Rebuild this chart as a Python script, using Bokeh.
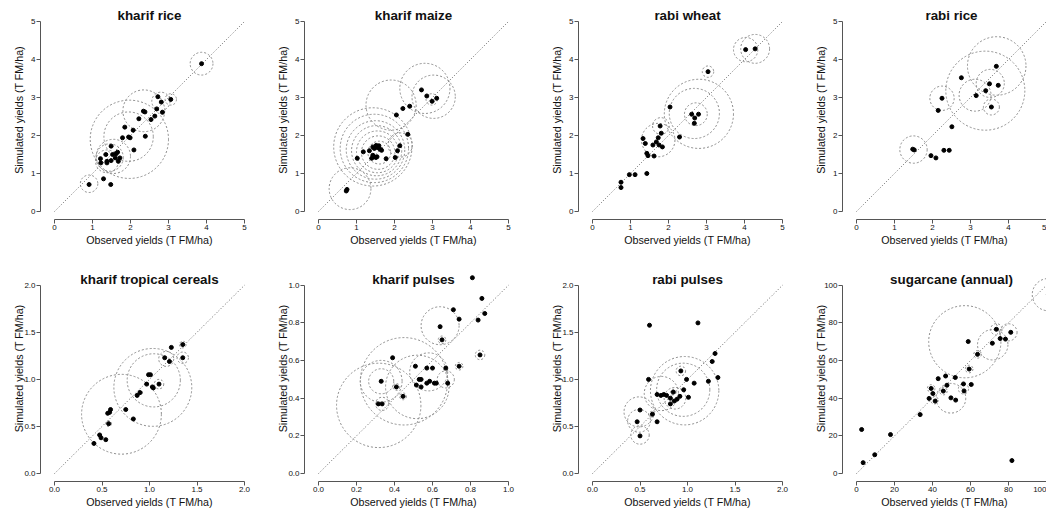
from bokeh.plotting import figure
from bokeh.models import Range1d, FixedTicker, Label, ColumnDataSource
from bokeh.layouts import column, row
from bokeh.embed import file_html
from bokeh.resources import INLINE

# ---------------- data ----------------
titles = ["kharif rice", "kharif maize", "rabi wheat", "rabi rice",
          "kharif tropical cereals", "kharif pulses", "rabi pulses", "sugarcane (annual)"]
x_label = "Observed yields (T FM/ha)"
y_label = "Simulated yields (T FM/ha)"

ticks_5 = [0, 1, 2, 3, 4, 5]
tick_labels_5 = ["0", "1", "2", "3", "4", "5"]
ticks_2 = [0.0, 0.5, 1.0, 1.5, 2.0]
tick_labels_2 = ["0.0", "0.5", "1.0", "1.5", "2.0"]
ticks_1 = [0.0, 0.2, 0.4, 0.6, 0.8, 1.0]
tick_labels_1 = ["0.0", "0.2", "0.4", "0.6", "0.8", "1.0"]
ticks_100 = [0, 20, 40, 60, 80, 100]
tick_labels_100 = ["0", "20", "40", "60", "80", "100"]

# kharif rice
kr_obs = [3.87, 3.06, 2.72, 2.81, 2.84, 2.69, 2.64, 2.54, 2.34, 2.38, 2.22, 2.39, 2.07, 1.85, 1.95, 1.99,
          1.79, 2.09, 1.49, 1.66, 1.35, 1.53, 1.62, 1.72, 1.60, 1.68, 1.49, 1.38, 1.21, 1.22, 1.38, 1.29, 1.48, 0.91]
kr_sim = [3.89, 2.95, 3.02, 2.88, 2.61, 2.70, 2.51, 2.42, 2.64, 2.62, 2.44, 1.98, 2.14, 2.22, 1.96, 1.94,
          1.94, 1.62, 1.72, 1.56, 1.50, 1.50, 1.52, 1.41, 1.41, 1.32, 1.34, 1.28, 1.39, 1.28, 1.32, 0.86, 0.71, 0.71]
kr_cx = [3.87, 3.06, 2.80, 2.35, 1.95, 1.97, 1.55, 1.45, 1.38, 0.91]
kr_cy = [3.89, 2.95, 2.90, 2.65, 1.97, 1.90, 1.45, 1.42, 1.32, 0.73]
kr_cr = [0.30, 0.15, 0.24, 0.55, 0.65, 1.03, 0.45, 0.36, 0.30, 0.23]

# kharif maize
km_obs = [0.73, 0.75, 1.02, 1.18, 1.34, 1.43, 1.47, 1.52, 1.56, 1.59, 1.62, 1.66, 1.40, 1.43, 1.46,
          1.51, 1.54, 1.78, 2.02, 2.08, 2.14, 2.35, 2.05, 2.22, 2.40, 2.71, 2.85, 2.99, 3.11]
km_sim = [0.54, 0.58, 1.40, 1.57, 1.60, 1.70, 1.66, 1.74, 1.68, 1.73, 1.64, 1.61, 1.40, 1.48, 1.44,
          1.42, 1.44, 1.39, 1.42, 1.60, 1.73, 2.03, 2.54, 2.71, 2.77, 3.20, 3.04, 2.90, 2.98]
km_cx = [1.43, 1.47, 1.50, 1.53, 1.55, 1.57, 1.60, 1.91, 2.80, 3.03, 2.98, 0.83, 2.15]
km_cy = [1.70, 1.66, 1.62, 1.60, 1.57, 1.55, 1.55, 2.80, 3.24, 3.02, 2.95, 0.60, 1.75]
km_cr = [1.03, 0.90, 0.77, 0.66, 0.55, 0.44, 0.30, 0.66, 0.66, 0.57, 0.15, 0.55, 0.32]

# rabi wheat
rw_obs = [0.75, 0.75, 0.97, 1.12, 1.43, 1.33, 1.39, 1.43, 1.46, 1.62, 1.59, 1.68, 1.73,
          1.75, 1.84, 1.78, 1.81, 2.29, 2.04, 2.61, 2.79, 2.69, 2.68, 3.04, 4.03, 4.28]
rw_sim = [0.77, 0.63, 0.97, 0.97, 1.00, 1.92, 1.79, 1.53, 1.47, 1.46, 1.75, 1.83, 1.94,
          1.75, 1.70, 2.25, 2.06, 1.96, 2.75, 2.56, 2.56, 2.46, 2.32, 3.68, 4.26, 4.28]
rw_cx = [4.03, 4.28, 3.04, 2.80, 2.68, 2.72, 1.73, 1.80]
rw_cy = [4.26, 4.28, 3.68, 2.57, 2.58, 2.56, 1.88, 2.25]
rw_cr = [0.32, 0.38, 0.15, 0.91, 0.66, 0.30, 0.44, 0.22]

# rabi rice
rr_obs = [1.48, 1.52, 1.96, 2.09, 2.30, 2.44, 2.15, 2.25, 2.51, 2.76, 3.15, 3.40, 3.50, 3.55, 3.68, 3.73]
rr_sim = [1.64, 1.62, 1.47, 1.41, 1.61, 1.61, 2.66, 2.98, 2.23, 3.52, 3.05, 3.18, 3.36, 2.75, 3.82, 3.32]
rr_cx = [1.50, 2.25, 3.39, 3.69, 3.12, 3.52, 3.55]
rr_cy = [1.63, 2.98, 3.18, 3.83, 3.06, 3.37, 2.75]
rr_cr = [0.36, 0.32, 1.04, 0.77, 0.42, 0.37, 0.21]

# kharif tropical cereals
kt_obs = [0.415, 0.475, 0.49, 0.54, 0.57, 0.56, 0.58, 0.59, 0.75, 0.83, 0.87, 0.90,
          0.97, 0.99, 1.01, 1.03, 1.04, 1.10, 1.16, 1.21, 1.23, 1.35, 1.35]
kt_sim = [0.32, 0.41, 0.38, 0.36, 0.53, 0.64, 0.65, 0.68, 0.68, 0.58, 0.83, 0.86,
          0.95, 1.05, 1.05, 0.92, 0.91, 0.95, 1.23, 1.19, 1.34, 1.23, 1.37]
kt_cx = [0.705, 1.035, 1.045, 1.176, 1.35, 1.35, 1.10, 0.90, 0.57]
kt_cy = [0.63, 0.915, 0.99, 1.218, 1.23, 1.37, 0.95, 0.86, 0.53]
kt_cr = [0.42, 0.41, 0.28, 0.079, 0.06, 0.035, 0.05, 0.025, 0.03]

# kharif pulses
kp_obs = [0.81, 0.86, 0.875, 0.84, 0.71, 0.74, 0.64, 0.65, 0.85, 0.74, 0.39, 0.33, 0.315, 0.335, 0.41,
          0.445, 0.51, 0.53, 0.54, 0.515, 0.54, 0.57, 0.57, 0.585, 0.60, 0.61, 0.62, 0.67, 0.68]
kp_sim = [1.04, 0.93, 0.85, 0.815, 0.87, 0.82, 0.78, 0.71, 0.63, 0.57, 0.615, 0.49, 0.37, 0.37, 0.46,
          0.41, 0.57, 0.50, 0.50, 0.47, 0.46, 0.56, 0.48, 0.49, 0.56, 0.48, 0.48, 0.56, 0.48]
kp_cx = [0.317, 0.64, 0.45, 0.52, 0.58, 0.33, 0.33, 0.445, 0.41, 0.335, 0.67, 0.74, 0.85, 0.65]
kp_cy = [0.362, 0.785, 0.49, 0.46, 0.54, 0.49, 0.49, 0.41, 0.46, 0.37, 0.50, 0.57, 0.63, 0.71]
kp_cr = [0.222, 0.10, 0.23, 0.167, 0.10, 0.11, 0.066, 0.018, 0.018, 0.035, 0.045, 0.02, 0.025, 0.02]

# rabi pulses
rp_obs = [0.60, 1.11, 1.29, 1.26, 1.32, 1.22, 1.07, 0.99, 0.93, 0.59, 0.68, 0.72, 0.75, 0.78,
          0.82, 0.82, 0.85, 0.86, 0.89, 0.92, 0.96, 1.01, 0.50, 0.47, 0.63, 0.68, 0.50]
rp_sim = [1.575, 1.60, 1.275, 1.19, 1.02, 0.98, 0.96, 1.00, 1.09, 1.00, 0.84, 0.83, 0.84, 0.83,
          0.80, 0.74, 0.865, 0.77, 0.79, 0.82, 0.89, 0.81, 0.675, 0.55, 0.63, 0.55, 0.40]
rp_cx = [0.97, 0.955, 0.725, 0.49, 0.49, 0.50, 0.868, 0.93, 0.85, 0.62]
rp_cy = [0.88, 0.89, 0.85, 0.655, 0.56, 0.41, 0.80, 1.09, 0.865, 0.63]
rp_cr = [0.36, 0.28, 0.18, 0.158, 0.12, 0.097, 0.114, 0.05, 0.03, 0.03]

# sugarcane (annual)
sc_obs = [2.7, 3.5, 9.6, 17.9, 33.5, 38.2, 39.3, 40.2, 41.4, 43.0, 46.9, 47.6, 45.7, 49.7, 52.2,
          52.0, 56.3, 56.6, 60.4, 58.8, 59.3, 63.7, 71.5, 73.6, 75.6, 78.4, 81.2, 81.8, 101.0]
sc_sim = [23.4, 5.8, 10.0, 20.7, 31.3, 39.9, 45.2, 42.5, 38.5, 50.4, 51.8, 46.9, 43.8, 40.2, 39.0,
          51.0, 47.6, 43.9, 47.3, 70.1, 55.5, 63.3, 69.2, 76.6, 71.7, 71.4, 75.0, 6.9, 95.0]
sc_cx = [57.0, 73.6, 80.0, 71.7, 63.7, 59.3, 49.7, 56.3, 45.7, 39.3, 41.0, 101.0]
sc_cy = [70.0, 76.6, 75.0, 68.4, 63.3, 55.5, 40.0, 45.0, 43.8, 45.2, 39.0, 95.0]
sc_cr = [19.0, 3.0, 4.5, 8.0, 2.0, 2.0, 7.8, 2.7, 2.0, 2.0, 2.0, 8.5]

panels = [
    (kr_obs, kr_sim, kr_cx, kr_cy, kr_cr, ticks_5, tick_labels_5),
    (km_obs, km_sim, km_cx, km_cy, km_cr, ticks_5, tick_labels_5),
    (rw_obs, rw_sim, rw_cx, rw_cy, rw_cr, ticks_5, tick_labels_5),
    (rr_obs, rr_sim, rr_cx, rr_cy, rr_cr, ticks_5, tick_labels_5),
    (kt_obs, kt_sim, kt_cx, kt_cy, kt_cr, ticks_2, tick_labels_2),
    (kp_obs, kp_sim, kp_cx, kp_cy, kp_cr, ticks_1, tick_labels_1),
    (rp_obs, rp_sim, rp_cx, rp_cy, rp_cr, ticks_2, tick_labels_2),
    (sc_obs, sc_sim, sc_cx, sc_cy, sc_cr, ticks_100, tick_labels_100),
]

# ---------------- layout geometry (pixels) ----------------
col_w = [262, 278, 264, 242]
col_bl = [40, 42, 38, 38]
col_br = [4, 18, 8, 0]
row_h = [255, 255]
row_bt = [0, 0]
row_bb = [36, 27]
row_top_gap = [13, 22]   # distance from figure top to the top of the axis region
SPAN_PX = 190.0
FONT = "Liberation Sans"
AXIS_COL = "#555555"
TICK_FS = 8.0


def label_width(s):
    # approximate Arial advance widths (em units) to keep the y-axis title at a fixed offset
    w = sum(0.278 if ch == "." else 0.556 for ch in s)
    return w * TICK_FS


figs = []
for i, (obs, sim, cx, cy, cr, ticks, tlabels) in enumerate(panels):
    r, c = divmod(i, 4)
    t0, t1 = ticks[0], ticks[-1]
    ppu = SPAN_PX / (t1 - t0)
    frame_w = col_w[c] - col_bl[c] - col_br[c]
    frame_h = row_h[r] - row_bt[r] - row_bb[r]
    xs = t0 - 14.0 / ppu
    ys = t0 - 8.0 / ppu
    p = figure(width=col_w[c], height=row_h[r], output_backend="svg", toolbar_location=None,
               x_range=Range1d(xs, xs + frame_w / ppu), y_range=Range1d(ys, ys + frame_h / ppu),
               min_border_left=col_bl[c], min_border_right=col_br[c],
               min_border_top=row_bt[r], min_border_bottom=row_bb[r])
    p.outline_line_color = None
    p.grid.visible = False
    p.background_fill_color = "white"
    p.border_fill_color = "white"

    for ax, lab in ((p.xaxis[0], x_label), (p.yaxis[0], y_label)):
        ax.ticker = FixedTicker(ticks=ticks)
        ax.major_label_overrides = {t: l for t, l in zip(ticks, tlabels)}
        ax.bounds = (t0, t1)
        ax.axis_line_color = AXIS_COL
        ax.major_tick_line_color = AXIS_COL
        ax.minor_tick_line_color = None
        ax.major_tick_in = 0
        ax.major_tick_out = 4
        ax.major_label_text_font = FONT
        ax.major_label_text_font_size = "%gpx" % TICK_FS
        ax.major_label_text_color = "#111111"
        ax.axis_label = lab
        ax.axis_label_text_font = FONT
        ax.axis_label_text_font_size = "10.7px"
        ax.axis_label_text_font_style = "normal"
        ax.axis_label_text_color = "#111111"
    p.xaxis.major_label_standoff = 1
    p.xaxis.axis_label_standoff = 1
    p.yaxis.major_label_standoff = 1
    maxw = max(label_width(s) for s in tlabels)
    p.yaxis.axis_label_standoff = int(round(3 - (maxw - label_width("5"))))

    # 1:1 line
    p.line(x=[t0, t1], y=[t0, t1], line_color="#666666", line_dash="1 2", line_width=1)
    # circles
    csrc = ColumnDataSource(dict(x=cx, y=cy, r=cr))
    p.circle(x="x", y="y", radius="r", source=csrc, fill_color=None,
             line_color="#8c8c8c", line_dash="2 2", line_width=1)
    # points
    p.scatter(x=obs, y=sim, size=4, color="black")
    # title near the top of the plot region
    p.add_layout(Label(x=(t0 + t1) / 2.0, y=t1 + 6.0 / ppu, text=titles[i],
                       text_align="center", text_baseline="alphabetic",
                       text_font=FONT, text_font_size="13.4px", text_font_style="bold",
                       text_color="#111111"))
    figs.append(p)

layout = column(row(*figs[:4]), row(*figs[4:]))
open("out.html", "w").write(file_html(layout, INLINE))
